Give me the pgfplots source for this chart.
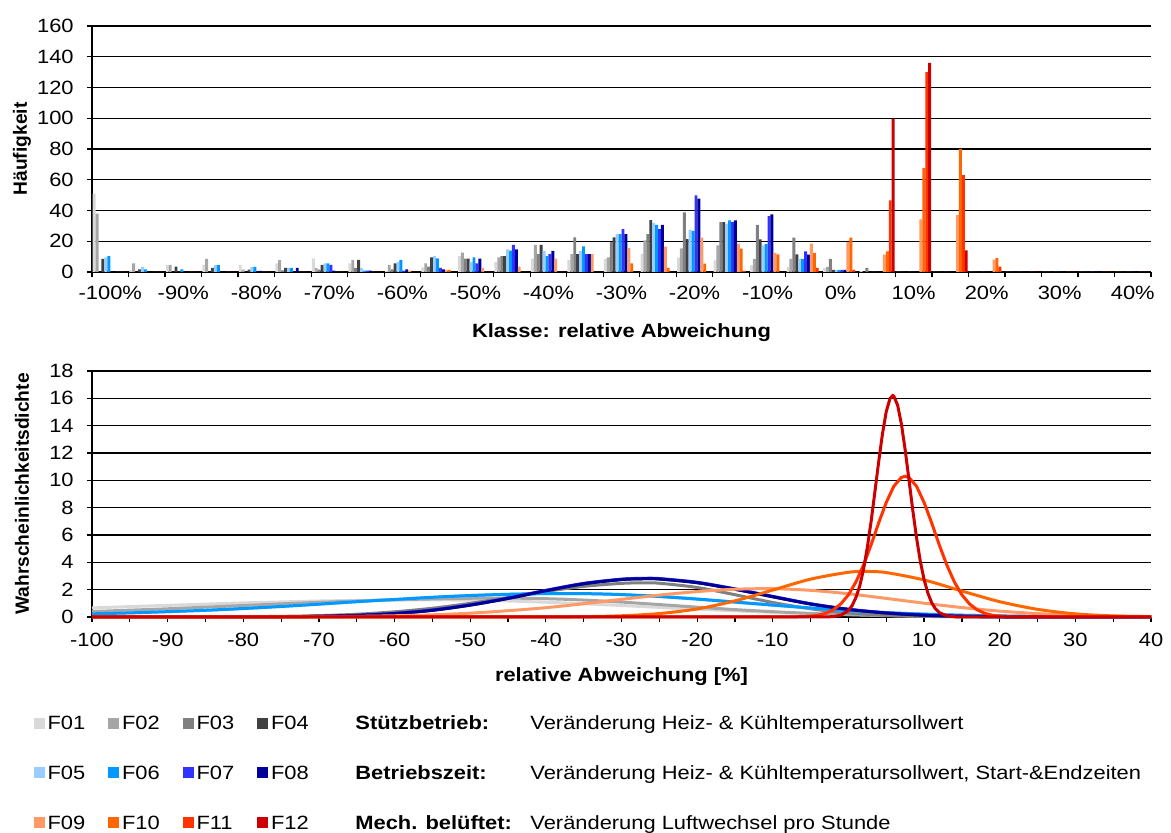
\documentclass[border=0pt]{standalone}
\usepackage{fontspec}
\setmainfont{Liberation Sans}[FakeStretch=1.14]
\newfontfamily\vfont{Liberation Sans}
\usepackage{pgfplots}
\usepackage{pgfplotstable}
\pgfplotsset{compat=1.18}
\definecolor{c01}{RGB}{217,217,217}
\definecolor{c02}{RGB}{166,166,166}
\definecolor{c03}{RGB}{128,128,128}
\definecolor{c04}{RGB}{64,64,64}
\definecolor{c05}{RGB}{153,204,255}
\definecolor{c06}{RGB}{0,153,255}
\definecolor{c07}{RGB}{51,51,255}
\definecolor{c08}{RGB}{0,0,153}
\definecolor{c09}{RGB}{255,153,102}
\definecolor{c10}{RGB}{255,102,0}
\definecolor{c11}{RGB}{255,51,0}
\definecolor{c12}{RGB}{204,0,0}
\pgfplotstableread{
k F01 F02 F03 F04 F05 F06 F07 F08 F09 F10 F11 F12
0 51 38 0 8.5 9.5 10.4 0 0 0 0 0 0
1 1 5.6 0 1.7 3.3 1.7 0 0 0 0 0 0
2 4.6 4.6 0 3.5 0 1.7 0 0 0 0 0 0
3 4.6 8.6 0 2.6 4.4 4.4 0 0 0 0 0 0
4 4.6 1.5 0 1.6 3.3 3.4 0 0.7 0 0 0 0
5 5.6 7.7 1.1 2.7 2.7 2.7 0 2.7 0 0 0 0
6 8.8 2.5 1.5 4.6 5.6 5.6 4.6 0.9 0 0 0 0
7 5.6 7.8 2.6 7.8 2.6 0.9 0.9 0.9 0 0 0 0
8 0.9 4.6 1.7 5.6 6.5 7.8 0.9 1.7 0.9 0 0 0
9 3.0 5.6 3.5 9.5 10.4 8.9 2.6 1.7 1.3 1.3 0 0
10 10.4 12.6 8.7 8.7 6.5 9.5 5.6 8.7 2.6 0 0 0
11 6.5 9.5 10.4 10.4 14.7 13.9 17.6 14.7 3.5 0 0 0
12 8.7 17.6 11.7 17.6 13.7 10.4 11.7 13.7 8.7 0 0 0
13 7.8 11.7 22.5 11.7 13.7 16.7 11.7 11.7 11.7 0 0 0
14 8.7 9.5 19.5 22.5 24.7 24.7 27.8 24.7 15.6 5.6 0 0
15 11.7 20.6 24.7 33.8 31.9 30.6 27.8 30.6 16.5 2.6 0 0
16 9.4 15.4 38.8 21.3 27.5 26.7 49.9 47.7 22.3 5.4 0 0
17 7.6 17.3 32.5 32.5 31.4 33.6 32.5 33.6 18.4 15.2 0.7 0
18 4.3 8.5 30.6 21.2 17.3 18.2 36.4 37.5 12.4 11.5 0 0
19 3.3 8.5 22.3 11.5 8.5 8.5 13.4 11.3 18.4 12.4 2.6 0
20 2.6 3.3 8.5 1.3 1.3 1.3 1.3 1.3 19.5 22.3 1.3 0
21 0.7 0 2.6 0 0 0 0 0 11.3 13.4 46.6 99.7
22 0 0 0 0 0 0 0 0 34.3 67.6 130 136
23 0 0 0 0 0 0 0 0 37 80 63 14
24 0 0 0 0 0 0 0 0 8 9 3.5 0
25 0 0 0 0 0 0 0 0 0 0 0 0
26 0 0 0 0 0 0 0 0 0 0 0 0
27 0 0 0 0 0 0 0 0 0 0 0 0
28 0 0 0 0 0 0 0 0 0 0 0 0
}\bars
\pgfplotsset{myax/.style={
  scale only axis, width=529.5pt, height=123pt,
  axis lines*=left, axis line style={black,line width=0.6pt},
  tick align=outside, tick style={black,line width=0.6pt},
  major tick length=2.5pt, minor tick length=2.5pt,
  ymajorgrids, major grid style={black,line width=0.6pt},
  /pgf/number format/assume math mode=true,
  yticklabel style={xshift=-3.3pt},
  xticklabel style={anchor=base,yshift=-12.5pt},
  ylabel style={at={(axis description cs:-0.0661,0.5)},anchor=center},
}}
\begin{document}
\fontsize{9.6}{11.5}\selectfont
\begin{tikzpicture}
\useasboundingbox (0,0) rectangle (585.5pt,416.5pt);
\begin{axis}[myax,
  at={(46pt,280.5pt)}, anchor=south west,
  ybar=0pt, bar width=1.46pt,
  xmin=-0.5, xmax=28.5, ymin=0, ymax=160,
  major tick length=0pt,
  ytick={0,20,...,160},
  minor ytick={0,20,...,160},
  yticklabel style={xshift=-2.5pt},
  xtick={0,2,...,28},
  xticklabels={-100\%,-90\%,-80\%,-70\%,-60\%,-50\%,-40\%,-30\%,-20\%,-10\%,0\%,10\%,20\%,30\%,40\%},
  minor xtick={-0.5,0.5,...,28.5},
  xticklabel style={yshift=-1.5pt},
  xlabel={\bfseries Klasse: relative Abweichung},
  xlabel style={at={(axis description cs:0.5,-0.2683)},anchor=base},
  ylabel={\vfont\bfseries Häufigkeit},
  legend columns=4,
  legend cell align=left,
  legend image code/.code={\fill[#1] (0pt,-2.75pt) rectangle (5.5pt,2.75pt);},
  legend style={at={(axis description cs:-0.0554,-1.8053)}, anchor=north west,
    draw=none, fill=none, inner sep=0pt,
    nodes={inner sep=0pt, text depth=0pt},
    row sep=18.13pt,
    /tikz/every odd column/.append style={column sep=1.4pt},
    /tikz/every even column/.append style={column sep=11.49pt}},
]
\addplot[fill=c01,draw=none] table[x=k,y=F01]{\bars}; \addlegendentry{F01}
\addplot[fill=c02,draw=none] table[x=k,y=F02]{\bars}; \addlegendentry{F02}
\addplot[fill=c03,draw=none] table[x=k,y=F03]{\bars}; \addlegendentry{F03}
\addplot[fill=c04,draw=none] table[x=k,y=F04]{\bars}; \addlegendentry{F04}
\addplot[fill=c05,draw=none] table[x=k,y=F05]{\bars}; \addlegendentry{F05}
\addplot[fill=c06,draw=none] table[x=k,y=F06]{\bars}; \addlegendentry{F06}
\addplot[fill=c07,draw=none] table[x=k,y=F07]{\bars}; \addlegendentry{F07}
\addplot[fill=c08,draw=none] table[x=k,y=F08]{\bars}; \addlegendentry{F08}
\addplot[fill=c09,draw=none] table[x=k,y=F09]{\bars}; \addlegendentry{F09}
\addplot[fill=c10,draw=none] table[x=k,y=F10]{\bars}; \addlegendentry{F10}
\addplot[fill=c11,draw=none] table[x=k,y=F11]{\bars}; \addlegendentry{F11}
\addplot[fill=c12,draw=none] table[x=k,y=F12]{\bars}; \addlegendentry{F12}
\end{axis}
\begin{axis}[myax,
  at={(46pt,108pt)}, anchor=south west,
  xmin=-100, xmax=40, ymin=0, ymax=18,
  ytick={0,2,...,18},
  xtick={-100,-90,...,40},
  xticklabels={-100,-90,-80,-70,-60,-50,-40,-30,-20,-10,0,10,20,30,40},
  minor xtick={-95,-85,...,35},
  clip=false,
  xlabel={\bfseries relative Abweichung [\%]},
  xlabel style={at={(axis description cs:0.5,-0.2642)},anchor=base},
  ylabel={\vfont\bfseries Wahrscheinlichkeitsdichte},
  every axis plot/.append style={line width=1.5pt, no markers},
]
\addplot[c01,smooth] coordinates {(-100,0.66)(-95,0.76)(-90,0.85)(-85,0.94)(-80,1.03)(-75,1.10)(-70,1.17)(-65,1.21)(-60,1.24)(-55,1.25)(-50,1.23)(-45,1.17)(-40,1.08)(-35,0.97)(-30,0.84)(-25,0.70)(-20,0.57)(-15,0.45)(-10,0.34)(-5,0.25)(0,0.18)(5,0.13)(10,0.085)(15,0.055)(20,0.035)(25,0.02)(30,0.012)(35,0.007)(40,0.004)};
\addplot[c02,smooth] coordinates {(-100,0.40)(-95,0.50)(-90,0.60)(-85,0.72)(-80,0.84)(-75,0.96)(-70,1.07)(-65,1.17)(-60,1.26)(-55,1.32)(-50,1.37)(-45,1.38)(-40,1.34)(-35,1.24)(-30,1.09)(-25,0.91)(-20,0.72)(-15,0.54)(-10,0.39)(-5,0.26)(0,0.17)(5,0.10)(10,0.06)(15,0.033)(20,0.018)(25,0.009)(30,0.004)(35,0.002)(40,0.001)};
\addplot[c03,smooth] coordinates {(-100,0)(-95,0.001)(-90,0.003)(-85,0.008)(-80,0.019)(-75,0.047)(-70,0.10)(-65,0.20)(-60,0.38)(-55,0.64)(-50,1.00)(-45,1.42)(-40,1.87)(-35,2.24)(-30,2.46)(-27,2.50)(-25,2.47)(-20,2.16)(-15,1.63)(-10,1.06)(-5,0.60)(0,0.29)(5,0.12)(10,0.043)(15,0.014)(20,0.004)(25,0.001)(30,0)(35,0)(40,0)};
\addplot[c04,smooth] coordinates {(-100,0)(-95,0)(-90,0)(-85,0.001)(-80,0.006)(-75,0.017)(-70,0.046)(-65,0.115)(-60,0.25)(-55,0.49)(-50,0.87)(-45,1.36)(-40,1.92)(-35,2.43)(-30,2.74)(-27,2.80)(-25,2.78)(-20,2.51)(-15,2.03)(-10,1.48)(-5,0.95)(0,0.55)(5,0.29)(10,0.13)(15,0.055)(20,0.02)(25,0.007)(30,0.002)(35,0)(40,0)};
\addplot[c05,smooth] coordinates {(-100,0.23)(-95,0.30)(-90,0.39)(-85,0.49)(-80,0.62)(-75,0.77)(-70,0.94)(-65,1.12)(-60,1.28)(-55,1.44)(-50,1.57)(-45,1.66)(-40,1.71)(-35,1.71)(-30,1.64)(-25,1.50)(-20,1.31)(-15,1.09)(-10,0.87)(-5,0.66)(0,0.47)(5,0.32)(10,0.21)(15,0.13)(20,0.08)(25,0.045)(30,0.025)(35,0.013)(40,0.006)};
\addplot[c06,smooth] coordinates {(-100,0.23)(-95,0.30)(-90,0.39)(-85,0.49)(-80,0.62)(-75,0.77)(-70,0.94)(-65,1.12)(-60,1.28)(-55,1.44)(-50,1.57)(-45,1.66)(-40,1.71)(-35,1.71)(-30,1.64)(-25,1.50)(-20,1.31)(-15,1.09)(-10,0.87)(-5,0.66)(0,0.47)(5,0.32)(10,0.21)(15,0.13)(20,0.08)(25,0.045)(30,0.025)(35,0.013)(40,0.006)};
\addplot[c07,smooth] coordinates {(-100,0)(-95,0)(-90,0)(-85,0.001)(-80,0.006)(-75,0.018)(-70,0.048)(-65,0.12)(-60,0.26)(-55,0.51)(-50,0.89)(-45,1.39)(-40,1.95)(-35,2.46)(-30,2.77)(-27,2.83)(-25,2.81)(-20,2.54)(-15,2.06)(-10,1.51)(-5,0.97)(0,0.57)(5,0.30)(10,0.14)(15,0.058)(20,0.021)(25,0.007)(30,0.002)(35,0)(40,0)};
\addplot[c08,smooth] coordinates {(-100,0)(-95,0)(-90,0)(-85,0.001)(-80,0.006)(-75,0.017)(-70,0.046)(-65,0.115)(-60,0.25)(-55,0.49)(-50,0.87)(-45,1.36)(-40,1.92)(-35,2.43)(-30,2.74)(-27,2.80)(-25,2.78)(-20,2.51)(-15,2.03)(-10,1.48)(-5,0.95)(0,0.55)(5,0.29)(10,0.13)(15,0.055)(20,0.02)(25,0.007)(30,0.002)(35,0)(40,0)};
\addplot[c09,smooth] coordinates {(-100,0)(-95,0)(-90,0.001)(-85,0.002)(-80,0.004)(-75,0.01)(-70,0.021)(-65,0.045)(-60,0.089)(-55,0.16)(-50,0.28)(-45,0.46)(-40,0.68)(-35,0.97)(-30,1.29)(-25,1.60)(-20,1.86)(-15,2.03)(-10,2.07)(-5,1.95)(0,1.70)(5,1.36)(10,1.01)(15,0.69)(20,0.43)(25,0.25)(30,0.13)(35,0.065)(40,0.03)};
\addplot[c10,smooth] coordinates {(-100,0)(-95,0)(-90,0)(-85,0)(-80,0)(-75,0)(-70,0)(-65,0)(-60,0)(-55,0)(-50,0)(-45,0.001)(-40,0.007)(-35,0.026)(-30,0.089)(-25,0.25)(-20,0.59)(-15,1.18)(-10,1.97)(-5,2.77)(0,3.27)(2.5,3.33)(5,3.25)(10,2.71)(15,1.90)(20,1.12)(25,0.56)(30,0.23)(35,0.08)(40,0.024)};
\addplot[c11] coordinates {(-100,0)(-50,0)(-20,0)(-8,0.003)(-6,0.026)(-5,0.06)(-4,0.13)(-3,0.27)(-2,0.53)(-1,0.96)(0,1.62)(1,2.57)(2,3.81)(3,5.29)(4,6.89)(5,8.38)(6,9.57)(7,10.21)(7.5,10.3)(8,10.21)(9,9.57)(10,8.38)(11,6.89)(12,5.29)(13,3.81)(14,2.57)(15,1.62)(16,0.96)(17,0.53)(18,0.27)(19,0.13)(20,0.06)(21,0.026)(23,0.003)(25,0)(40,0)};
\addplot[c12] coordinates {(-100,0)(-50,0)(-10,0)(-3,0.005)(-2,0.027)(-1,0.13)(0,0.47)(0.5,0.85)(1,1.44)(1.5,2.28)(2,3.50)(2.5,5.10)(3,7.00)(3.5,9.17)(4,11.37)(4.5,13.41)(5,15.03)(5.5,15.99)(5.85,16.2)(6,16.16)(6.5,15.50)(7,14.13)(7.5,12.23)(8,10.05)(8.5,7.84)(9,5.81)(9.5,4.08)(10,2.74)(10.5,1.75)(11,1.05)(11.5,0.60)(12,0.33)(13,0.083)(14,0.018)(15,0.003)(20,0)(40,0)};
\end{axis}
\node[anchor=base west,inner sep=0pt] at (177.5pt,51.55pt) {\bfseries Stützbetrieb:};
\node[anchor=base west,inner sep=0pt] at (265pt,51.55pt) {Veränderung Heiz- \& Kühltemperatursollwert};
\node[anchor=base west,inner sep=0pt] at (177.5pt,26.55pt) {\bfseries Betriebszeit:};
\node[anchor=base west,inner sep=0pt] at (265pt,26.55pt) {Veränderung Heiz- \& Kühltemperatursollwert, Start-\&Endzeiten};
\node[anchor=base west,inner sep=0pt] at (177.5pt,1.55pt) {\bfseries Mech. belüftet:};
\node[anchor=base west,inner sep=0pt] at (265pt,1.55pt) {Veränderung Luftwechsel pro Stunde};
\end{tikzpicture}
\end{document}
